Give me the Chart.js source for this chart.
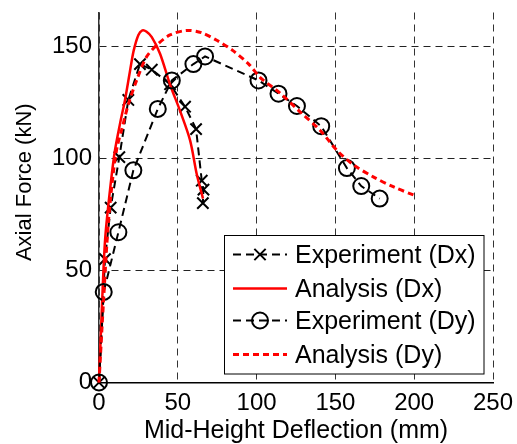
<!DOCTYPE html>
<html>
<head>
<meta charset="utf-8">
<script src="https://cdn.jsdelivr.net/npm/chart.js@4.4.0/dist/chart.umd.min.js"></script>
<style>
  body { margin: 0; background: #fff; }
  #wrap { width: 517px; height: 444px; }
</style>
</head>
<body>
<div id="wrap"><canvas id="chart" width="517" height="444"></canvas></div>
<script>
// series names and axis ticks
const seriesNames = ['Experiment (Dx)', 'Analysis (Dx)', 'Experiment (Dy)', 'Analysis (Dy)'];
const xTicks = [0, 50, 100, 150, 200, 250];
const yTicks = [0, 50, 100, 150];

// Experiment (Dx)
const expDxX = [0, 3.8, 7.4, 12.9, 18.6, 26, 33.5, 45.1, 54.6, 61.6, 65.2, 66.3, 65.9];
const expDxY = [0, 55, 78, 100.5, 126, 142, 139.5, 133, 123, 113, 90, 86, 80];

// Analysis (Dx)
const anaDxX = [0, 2.5, 4, 7, 10, 13.5, 16.5, 19.7, 22, 25, 27.5, 30, 33.5, 38.8, 45, 51.5, 57.8, 62, 66];
const anaDxY = [0, 45, 65, 86, 103, 116, 126, 139, 148, 155, 157, 156.5, 154, 146.5, 133, 121, 108, 93, 82];

// Experiment (Dy)
const expDyX = [0, 3, 12.3, 21.8, 37.3, 46.2, 59.9, 67.3, 101.2, 113.9, 125.6, 141, 157.3, 166.4, 178.1];
const expDyY = [0, 40.4, 67, 94.6, 122, 134.7, 142, 145.4, 134.7, 128.8, 123.3, 114.3, 95.6, 87.6, 82];

// Analysis (Dy)
const anaDyX = [0, 3, 5.9, 9, 11.5, 14.5, 18.6, 24, 30, 36.7, 45, 55.7, 65, 75, 85, 95, 102.3, 115, 127.7, 140.4, 151, 161.6, 174.3, 187, 200];
const anaDyY = [0, 38, 71, 93, 105, 113, 124, 135, 145, 150.5, 155, 157, 156, 152.5, 148, 142, 136, 129, 120.6, 112.4, 103.5, 97, 91.6, 87.2, 83.5];

function toPoints(xs, ys) {
    return xs.map((x, i) => ({ x: x, y: ys[i] }));
}

const FONT = "'Liberation Sans', Arial, sans-serif";

// legend drawn inside the plot, like the original figure
const boxLegend = {
    id: 'boxLegend',
    afterDatasetsDraw(chart) {
        const ctx = chart.ctx;
        const left = 224.5, top = 235.5, width = 259.5, height = 138.5;
        const rows = [254.5, 288.5, 320.5, 354.5];
        ctx.save();
        ctx.fillStyle = '#fff';
        ctx.fillRect(left, top, width, height);
        ctx.strokeStyle = '#000';
        ctx.lineWidth = 1;
        ctx.strokeRect(left, top, width, height);
        chart.data.datasets.forEach((ds, i) => {
            const y = rows[i];
            ctx.save();
            ctx.strokeStyle = ds.borderColor;
            ctx.lineWidth = ds.borderWidth;
            ctx.setLineDash(ds.borderDash || []);
            ctx.beginPath();
            ctx.moveTo(233, y);
            ctx.lineTo(287, y);
            ctx.stroke();
            ctx.restore();
            if (ds.pointRadius > 0) {
                ctx.save();
                ctx.strokeStyle = ds.pointBorderColor;
                ctx.fillStyle = 'rgba(0,0,0,0)';
                ctx.lineWidth = ds.pointBorderWidth;
                Chart.helpers.drawPoint(ctx, {
                    pointStyle: ds.pointStyle,
                    radius: ds.pointRadius,
                    borderWidth: ds.pointBorderWidth,
                    rotation: 0
                }, 260, y);
                ctx.restore();
            }
            ctx.fillStyle = '#000';
            ctx.font = '25px ' + FONT;
            ctx.textBaseline = 'middle';
            ctx.textAlign = 'left';
            ctx.fillText(seriesNames[i], 295, y + 2);
        });
        ctx.restore();
    }
};

new Chart(document.getElementById('chart'), {
    type: 'scatter',
    data: {
        datasets: [{
            label: seriesNames[0],
            data: toPoints(expDxX, expDxY),
            showLine: true,
            borderColor: '#000',
            borderWidth: 2,
            borderDash: [8, 5],
            pointStyle: 'crossRot',
            pointRadius: 8,
            pointBorderWidth: 2,
            pointBorderColor: '#000',
            pointBackgroundColor: 'transparent',
            clip: false,
            order: 4
        }, {
            label: seriesNames[1],
            data: toPoints(anaDxX, anaDxY),
            showLine: true,
            borderColor: '#ff0000',
            borderWidth: 2.5,
            pointRadius: 0,
            tension: 0.3,
            clip: false,
            order: 3
        }, {
            label: seriesNames[2],
            data: toPoints(expDyX, expDyY),
            showLine: true,
            borderColor: '#000',
            borderWidth: 2,
            borderDash: [8, 5],
            pointStyle: 'circle',
            pointRadius: 8,
            pointBorderWidth: 2,
            pointBorderColor: '#000',
            pointBackgroundColor: 'transparent',
            clip: false,
            order: 2
        }, {
            label: seriesNames[3],
            data: toPoints(anaDyX, anaDyY),
            showLine: true,
            borderColor: '#ff0000',
            borderWidth: 3,
            borderDash: [6, 4],
            pointRadius: 0,
            tension: 0.3,
            clip: false,
            order: 1
        }]
    },
    options: {
        responsive: false,
        animation: false,
        layout: { padding: { left: 0, right: 24, top: 12.5, bottom: 0 } },
        plugins: {
            legend: { display: false },
            tooltip: { enabled: false }
        },
        scales: {
            x: {
                type: 'linear',
                min: 0,
                max: 250,
                afterBuildTicks: (axis) => { axis.ticks = xTicks.map(v => ({ value: v })); },
                afterFit: (axis) => {
                    axis.height = 61.5;
                    axis.paddingLeft = 0;
                    axis.paddingRight = 0;
                },
                grid: { color: '#333', lineWidth: 1, drawTicks: false },
                border: { display: true, color: '#000', width: 1.5, dash: [7, 5] },
                ticks: { color: '#000', font: { family: FONT, size: 24 }, padding: 6, maxRotation: 0 },
                title: {
                    display: true,
                    text: 'Mid-Height Deflection (mm)',
                    color: '#000',
                    font: { family: FONT, size: 25, lineHeight: 1 },
                    padding: 0
                }
            },
            y: {
                type: 'linear',
                min: 0,
                max: 165,
                afterBuildTicks: (axis) => { axis.ticks = yTicks.map(v => ({ value: v })); },
                afterFit: (axis) => {
                    axis.width = 99;
                    axis.paddingTop = 0;
                    axis.paddingBottom = 0;
                },
                grid: { color: '#222', lineWidth: 1, drawTicks: false },
                border: { display: true, color: '#333', width: 1.5, dash: [7, 5] },
                ticks: { color: '#000', font: { family: FONT, size: 24 }, padding: 7 },
                title: {
                    display: true,
                    text: '     Axial Force (kN)',
                    color: '#000',
                    font: { family: FONT, size: 22, lineHeight: 1 },
                    padding: { top: 14, bottom: 0 }
                }
            }
        }
    },
    plugins: [boxLegend]
});
</script>
</body>
</html>
